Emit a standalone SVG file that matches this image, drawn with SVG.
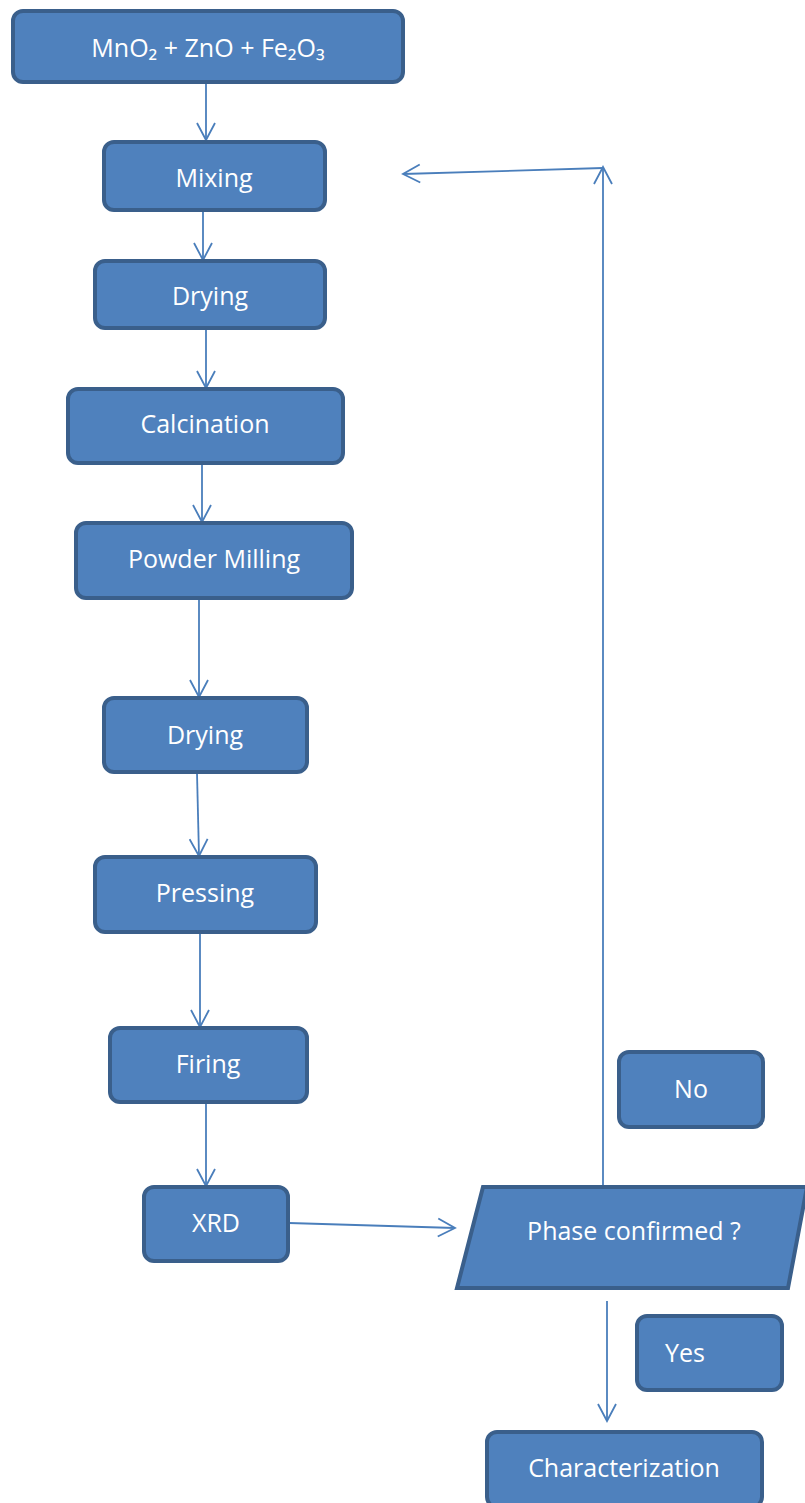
<svg xmlns="http://www.w3.org/2000/svg" width="805" height="1503" viewBox="0 0 805 1503">
<style>
.n{fill:#4F81BD;stroke:#3A5F8B;stroke-width:4}
.t{fill:#FFFFFF;font-family:"Open Sans","Noto Sans",sans-serif;font-size:25px;text-anchor:middle;dominant-baseline:central}
.c{fill:none;stroke:#4A7EBB;stroke-width:1.8}
</style>
<defs>
<marker id="a" markerWidth="20" markerHeight="20" viewBox="-18 -10 20 20" refX="0" refY="0" orient="auto" markerUnits="userSpaceOnUse">
<path d="M-17,-9 L0,0 L-17,9" fill="none" stroke="#4A7EBB" stroke-width="1.8"/>
</marker>
</defs>
<rect width="805" height="1503" fill="#FFFFFF"/>
<g id="connectors">
<line class="c" x1="206" y1="83" x2="206" y2="140" marker-end="url(#a)"/>
<line class="c" x1="203" y1="211" x2="203" y2="260" marker-end="url(#a)"/>
<line class="c" x1="206" y1="329" x2="206" y2="388" marker-end="url(#a)"/>
<line class="c" x1="202" y1="464" x2="202" y2="522" marker-end="url(#a)"/>
<line class="c" x1="199" y1="599" x2="199" y2="697" marker-end="url(#a)"/>
<line class="c" x1="197" y1="773" x2="199" y2="856" marker-end="url(#a)"/>
<line class="c" x1="200" y1="933" x2="200" y2="1027" marker-end="url(#a)"/>
<line class="c" x1="206" y1="1103" x2="206" y2="1186" marker-end="url(#a)"/>
<line class="c" x1="289" y1="1223" x2="455" y2="1228" marker-end="url(#a)"/>
<line class="c" x1="603" y1="1186" x2="603" y2="167" marker-end="url(#a)"/>
<line class="c" x1="603" y1="168" x2="403" y2="174" marker-end="url(#a)"/>
<line class="c" x1="607" y1="1301" x2="607" y2="1421" marker-end="url(#a)"/>
</g>
<g id="n1"><rect class="n" x="13" y="11" width="390" height="71" rx="10"/><text class="t" x="208" y="47">MnO₂ + ZnO + Fe₂O₃</text></g>
<g id="n2"><rect class="n" x="104" y="142" width="221" height="68" rx="10"/><text class="t" x="214" y="177">Mixing</text></g>
<g id="n3"><rect class="n" x="95" y="261" width="230" height="67" rx="10"/><text class="t" x="210" y="295">Drying</text></g>
<g id="n4"><rect class="n" x="68" y="389" width="275" height="74" rx="10"/><text class="t" x="205" y="423">Calcination</text></g>
<g id="n5"><rect class="n" x="76" y="523" width="276" height="75" rx="10"/><text class="t" x="214" y="558">Powder Milling</text></g>
<g id="n6"><rect class="n" x="104" y="698" width="203" height="74" rx="10"/><text class="t" x="205" y="734">Drying</text></g>
<g id="n7"><rect class="n" x="95" y="857" width="221" height="75" rx="10"/><text class="t" x="205" y="892">Pressing</text></g>
<g id="n8"><rect class="n" x="110" y="1028" width="197" height="74" rx="10"/><text class="t" x="208" y="1063">Firing</text></g>
<g id="n9"><rect class="n" x="144" y="1187" width="144" height="74" rx="10"/><text class="t" x="216" y="1222">XRD</text></g>
<g id="n10"><polygon class="n" points="483,1187 807,1187 788,1288 457,1288"/><text class="t" x="634" y="1230">Phase confirmed ?</text></g>
<g id="n11"><rect class="n" x="619" y="1052" width="144" height="75" rx="10"/><text class="t" x="691" y="1088">No</text></g>
<g id="n12"><rect class="n" x="637" y="1316" width="145" height="74" rx="10"/><text class="t" x="685" y="1352">Yes</text></g>
<g id="n13"><rect class="n" x="487" y="1432" width="275" height="75" rx="10"/><text class="t" x="624" y="1467">Characterization</text></g>
</svg>
